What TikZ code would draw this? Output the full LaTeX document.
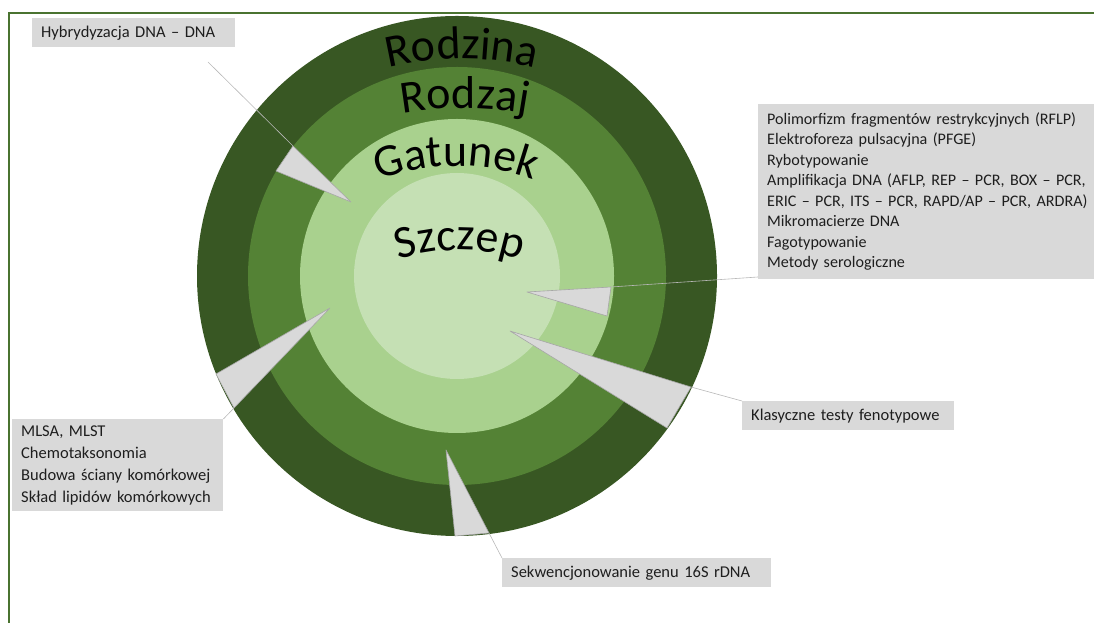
\documentclass[tikz,border=0pt]{standalone}
\usepackage{fontspec}
\setmainfont{Carlito}
\usetikzlibrary{decorations.text}
\definecolor{gA}{HTML}{385723}
\definecolor{gB}{HTML}{548235}
\definecolor{gC}{HTML}{A9D18E}
\definecolor{gD}{HTML}{C5E0B4}
\definecolor{boxgray}{HTML}{D9D9D9}
\definecolor{txt}{HTML}{1E1E1E}
\definecolor{framegreen}{HTML}{4A7330}
\newcommand\bigfont{\fontsize{46}{46}\selectfont}
\begin{document}
\begin{tikzpicture}[x=1pt,y=1pt,
  lbl/.style={fill=boxgray, inner xsep=9pt, inner ysep=0pt, align=left, text=txt,
    font=\fontsize{16.5}{20.5}\selectfont},
  wedge/.style={fill=boxgray, draw=black!35, line width=0.6pt, line join=round},
  lead/.style={draw=black!28, line width=0.6pt},
  frameline/.style={draw=framegreen, line width=2.5pt},
  arctitle/.style={decorate, decoration={text along path, text color=black, text align=center,
      text={|\bigfont|#1}}}]
\useasboundingbox (0,0) rectangle (1094,623);
% frame
\draw[frameline] (9,0) -- (9,610) -- (1094,610);
% rings
\coordinate (c) at (457,347);
\fill[gA] (c) circle[radius=260];
\fill[gB] (c) circle[radius=209];
\fill[gC] (c) circle[radius=157];
\fill[gD] (c) circle[radius=103];
% curved titles
\path[arctitle=Rodzina] ([shift={(150:310)}]462,254) arc[start angle=150, end angle=30, radius=310];
\path[arctitle=Rodzaj] ([shift={(140:350)}]465,165) arc[start angle=140, end angle=40, radius=350];
\path[arctitle=Gatunek] ([shift={(150:230)}]456,227) arc[start angle=150, end angle=30, radius=230];
\path[arctitle=Szczep] ([shift={(150:200)}]460,173) arc[start angle=150, end angle=30, radius=200];
% label boxes
\node[lbl, anchor=north west, minimum width=203pt, minimum height=29pt, text width=185pt] (hyb) at (32,605)
  {Hybrydyzacja DNA – DNA};
\node[lbl, anchor=north west, minimum width=336pt, minimum height=175pt, text width=340pt,
  font=\fontsize{16.1}{20.5}\selectfont] (poli) at (758,519)
  {Polimorfizm fragmentów restrykcyjnych (RFLP)\\Elektroforeza pulsacyjna (PFGE)\\Rybotypowanie\\
   Amplifikacja DNA (AFLP, REP – PCR, BOX – PCR,\\ERIC – PCR, ITS – PCR, RAPD/AP – PCR, ARDRA)\\
   Mikromacierze DNA\\Fagotypowanie\\Metody serologiczne};
\node[lbl, anchor=north west, minimum width=212pt, minimum height=29pt, text width=194pt] (klas) at (742,222)
  {Klasyczne testy fenotypowe};
\node[lbl, anchor=north west, minimum width=269pt, minimum height=29pt, text width=251pt] (sekw) at (502,65)
  {Sekwencjonowanie genu 16S rDNA};
\node[lbl, anchor=north west, minimum width=211pt, minimum height=92pt, text width=193pt,
  font=\fontsize{16.5}{22}\selectfont] (mlsa) at (12,204)
  {MLSA, MLST\\Chemotaksonomia\\Budowa ściany komórkowej\\Skład lipidów komórkowych};
% wedge points
\coordinate (hT) at (351,421); \coordinate (hA) at (293,477); \coordinate (hB) at (276,452);
\coordinate (hEnd) at (208,561);
\coordinate (pT) at (527,331); \coordinate (pA) at (611,336); \coordinate (pB) at (607,307);
\coordinate (pEnd) at (758,346);
\coordinate (kT) at (510,292); \coordinate (kA) at (691,236); \coordinate (kB) at (667,195);
\coordinate (sT) at (446,173); \coordinate (sA) at (489,90); \coordinate (sB) at (455,87);
\coordinate (mT) at (330,315); \coordinate (mA) at (234,215); \coordinate (mB) at (216,249);
% wedges
\filldraw[wedge] (hT) -- (hA) -- (hB) -- cycle;
\filldraw[wedge] (pT) -- (pA) -- (pB) -- cycle;
\filldraw[wedge] (kT) -- (kA) -- (kB) -- cycle;
\filldraw[wedge] (sT) -- (sA) -- (sB) -- cycle;
\filldraw[wedge] (mT) -- (mA) -- (mB) -- cycle;
% leader lines
\draw[lead] (hA) -- (hEnd);
\draw[lead] (pA) -- (pEnd);
\draw[lead] (kA) -- (klas.north west);
\draw[lead] (sA) -- (sekw.north west);
\draw[lead] (mA) -- (mlsa.north east);
\end{tikzpicture}
\end{document}
